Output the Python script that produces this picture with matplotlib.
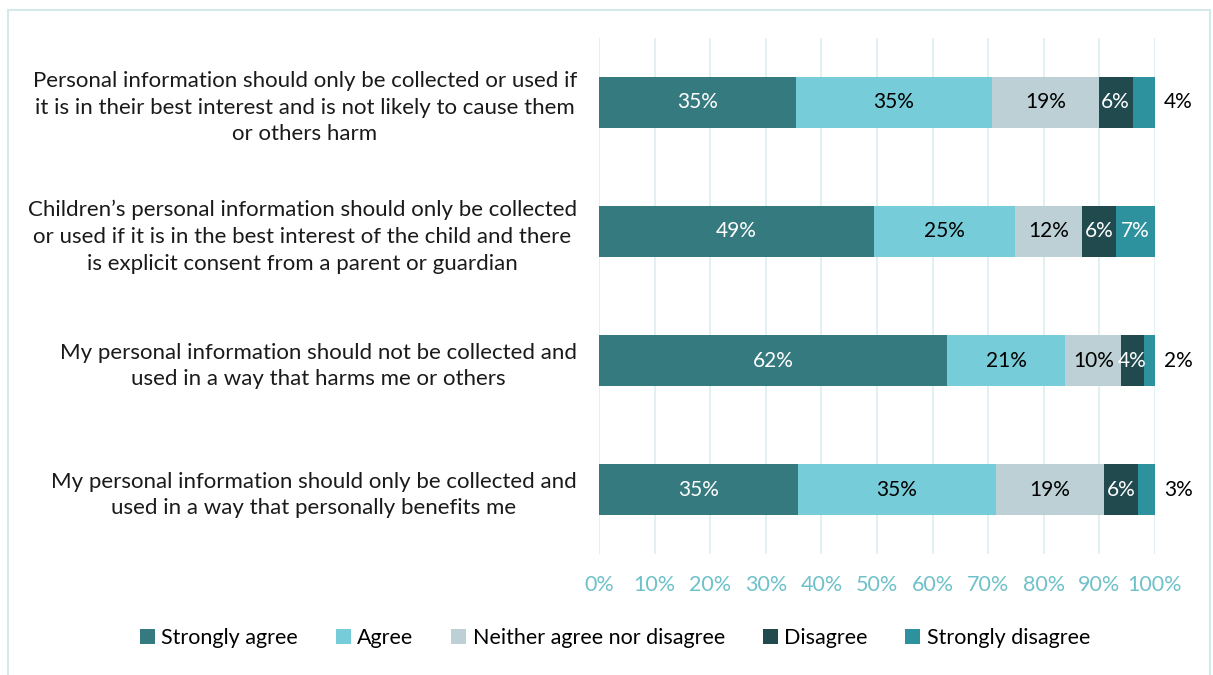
import matplotlib
matplotlib.use("Agg")
import matplotlib.pyplot as plt
from matplotlib.patches import Rectangle
import numpy as np

plt.rcParams['font.family'] = ['Lato', 'DejaVu Sans']

# statements, top to bottom
categories = [
    "Personal information should only be collected or used if\nit is in their best interest and is not likely to cause them\nor others harm",
    "Children\u2019s personal information should only be collected\nor used if it is in the best interest of the child and there\nis explicit consent from a parent or guardian",
    "My personal information should not be collected and\nused in a way that harms me or others",
    "My personal information should only be collected and\nused in a way that personally benefits me",
]
series = ["Strongly agree", "Agree", "Neither agree nor disagree", "Disagree", "Strongly disagree"]
strongly_agree = [35, 49, 62, 35]
agree = [35, 25, 21, 35]
neither = [19, 12, 10, 19]
disagree = [6, 6, 4, 6]
strongly_disagree = [4, 7, 2, 3]

colors = ["#357a7e", "#76ccd8", "#bcd0d5", "#214a4f", "#2e929e"]
text_colors = ["white", "black", "black", "white", "white"]

data = np.array([strongly_agree, agree, neither, disagree, strongly_disagree], dtype=float)
# 100% stacked: each bar is scaled to its own total
shares = data / data.sum(axis=0) * 100

fig = plt.figure(figsize=(12.13, 6.75), dpi=100)
ax = fig.add_axes([0.4938, 0.179, 0.4584, 0.765])

y = np.arange(len(categories))
left = np.zeros(len(categories))
for i, name in enumerate(series):
    ax.barh(y, shares[i], left=left, height=0.4, color=colors[i], label=name, zorder=3)
    for j in range(len(categories)):
        val = int(data[i, j])
        cx = left[j] + shares[i, j] / 2
        if i == len(series) - 1 and val < 5:
            ax.text(101.6, y[j], f"{val}%", ha='left', va='center',
                    fontsize=15, color='black', zorder=4)
        else:
            ax.text(cx, y[j], f"{val}%", ha='center', va='center',
                    fontsize=15, color=text_colors[i], zorder=4)
    left += shares[i]

ax.set_xlim(0, 100)
ax.set_ylim(len(categories) - 0.5, -0.5)
ax.set_xticks(np.arange(0, 101, 10))
ax.set_xticklabels([f"{t}%" for t in range(0, 101, 10)], fontsize=15.5, color="#6fc1c9")
ax.set_yticks(y)
ax.set_yticklabels(categories, fontsize=16, color="#1a1a1a", multialignment='center',
                   linespacing=1.42)
ax.tick_params(axis='both', length=0)
ax.tick_params(axis='x', pad=15)
ax.tick_params(axis='y', pad=16)
ax.grid(axis='x', color="#dcedf1", linewidth=1.2, zorder=0)
for s in ax.spines.values():
    s.set_visible(False)

fig.legend(loc='center', bbox_to_anchor=(0.507, 0.055), ncol=5, frameon=False,
           fontsize=15.5, handlelength=0.7, handleheight=0.7, handletextpad=0.3,
           columnspacing=1.75)

fig.patches.append(Rectangle((0.0062, -0.05), 0.9913, 1.035, transform=fig.transFigure,
                             fill=False, edgecolor="#d5e8ea", linewidth=1.5))

fig.savefig("out.png", dpi=100)
